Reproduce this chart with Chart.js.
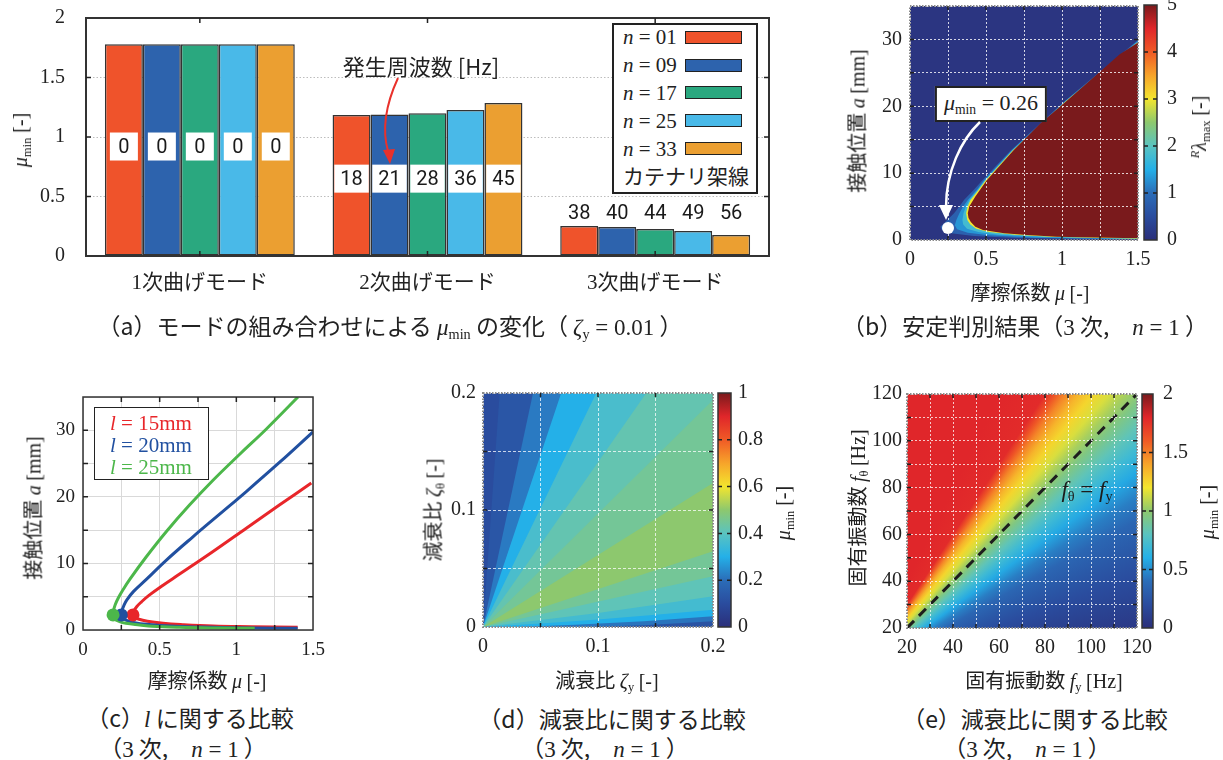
<!DOCTYPE html>
<html>
<head>
<meta charset="utf-8">
<script src="https://cdn.jsdelivr.net/npm/chart.js@4.4.1/dist/chart.umd.min.js"></script>
<style>
  body { margin: 0; width: 1223px; height: 760px; position: relative; overflow: hidden; background: #fff;
         font-family: 'Noto Sans CJK JP', sans-serif; color: #222; }
  canvas { position: absolute; }
  .t { position: absolute; white-space: nowrap; line-height: 1; }
  .ctr { transform: translate(-50%, -50%); }
  .rot { transform: translate(-50%, -50%) rotate(-90deg); }
  .m { font-family: 'Liberation Serif', serif; }
  .t sub { font-size: 0.62em; vertical-align: -0.32em; line-height: 0; }
  .t sup { font-size: 0.62em; vertical-align: 0.55em; line-height: 0; }
  .legend { position: absolute; background: #fff; border: 2px solid #222; box-sizing: border-box; }
  .lrow { position: absolute; left: 9px; height: 28px; line-height: 28px; white-space: nowrap; }
  .sw { position: absolute; width: 57px; height: 13px; border: 1.5px solid #222; box-sizing: border-box; }
  svg { position: absolute; left: 0; top: 0; pointer-events: none; }
</style>
</head>
<body>
<canvas id="chartA"></canvas>
<canvas id="chartB"></canvas>
<canvas id="barB"></canvas>
<canvas id="chartC"></canvas>
<canvas id="chartD"></canvas>
<canvas id="barD"></canvas>
<canvas id="chartE"></canvas>
<canvas id="barE"></canvas>

<div id="legendA" class="legend" style="left:612px;top:23px;width:146px;height:171px"></div>
<div id="legendC" class="legend" style="left:94px;top:407px;width:115px;height:73px;border-width:1.5px"></div>

<!-- axis titles -->
<div class="t rot m" style="left:20px;top:140px;font-size:20px"><i>μ</i><sub>min</sub> [-]</div>
<div class="t ctr" style="left:421px;top:65px;font-size:22px">発生周波数 [Hz]</div>

<div class="t rot" style="left:857px;top:121px;font-size:20px">接触位置 <i class="m">a</i> <span class="m">[mm]</span></div>
<div class="t ctr" style="left:1030px;top:292px;font-size:20px">摩擦係数 <i class="m">μ</i> <span class="m">[-]</span></div>
<div class="t rot m" style="left:1199px;top:127px;font-size:20px"><sup><i>R</i></sup><i>λ</i><sub>max</sub> [-]</div>
<div class="t ctr m" style="left:991px;top:104px;font-size:22px;background:#fff;border:2px solid #222;padding:4px 7px 6px 7px"><i>μ</i><sub>min</sub> = 0.26</div>

<div class="t rot" style="left:33px;top:508px;font-size:20px">接触位置 <i class="m">a</i> <span class="m">[mm]</span></div>
<div class="t ctr" style="left:207px;top:680px;font-size:20px">摩擦係数 <i class="m">μ</i> <span class="m">[-]</span></div>

<div class="t rot" style="left:433px;top:510px;font-size:20px">減衰比 <i class="m">ζ</i><sub class="m">θ</sub> <span class="m">[-]</span></div>
<div class="t ctr" style="left:607px;top:680px;font-size:20px">減衰比 <i class="m">ζ</i><sub class="m">y</sub> <span class="m">[-]</span></div>
<div class="t rot m" style="left:783px;top:513px;font-size:20px"><i>μ</i><sub>min</sub> [-]</div>

<div class="t rot" style="left:857px;top:508px;font-size:20px">固有振動数 <i class="m">f</i><sub class="m">θ</sub> <span class="m">[Hz]</span></div>
<div class="t ctr" style="left:1044px;top:680px;font-size:20px">固有振動数 <i class="m">f</i><sub class="m">y</sub> <span class="m">[Hz]</span></div>
<div class="t rot m" style="left:1207px;top:512px;font-size:20px"><i>μ</i><sub>min</sub> [-]</div>
<div class="t ctr m" style="left:1087px;top:489px;font-size:23px;color:#1c1c1c"><i>f</i><sub>θ</sub> = <i>f</i><sub>y</sub></div>

<!-- captions -->
<div class="t ctr" style="left:390px;top:326px;font-size:23px">（a）モードの組み合わせによる <span class="m"><i>μ</i><sub>min</sub></span> の変化（ <span class="m"><i>ζ</i><sub>y</sub> = 0.01</span> ）</div>
<div class="t ctr" style="left:1025px;top:326px;font-size:23px">（b）安定判別結果（<span class="m">3</span> 次,　<span class="m"><i>n</i> = 1</span> ）</div>
<div class="t ctr" style="left:190px;top:718px;font-size:23px">（c）<i class="m">l</i> に関する比較</div>
<div class="t ctr" style="left:183px;top:748px;font-size:23px">（<span class="m">3</span> 次,　<span class="m"><i>n</i> = 1</span> ）</div>
<div class="t ctr" style="left:612px;top:718px;font-size:23px">（d）減衰比に関する比較</div>
<div class="t ctr" style="left:605px;top:748px;font-size:23px">（<span class="m">3</span> 次,　<span class="m"><i>n</i> = 1</span> ）</div>
<div class="t ctr" style="left:1035px;top:718px;font-size:23px">（e）減衰比に関する比較</div>
<div class="t ctr" style="left:1027px;top:748px;font-size:23px">（<span class="m">3</span> 次,　<span class="m"><i>n</i> = 1</span> ）</div>

<svg width="1223" height="760">
  <path d="M398,78 C386,104 382,130 388,151" fill="none" stroke="#e9312b" stroke-width="2"/>
  <polygon points="383,150 395,149 390,164" fill="#e9312b"/>
  <path d="M980,122 C961,140 946,172 946,207" fill="none" stroke="#fff" stroke-width="2.5"/>
  <polygon points="939,205 953,205 946,220" fill="#fff"/>
</svg>

<script>
// ---- (a) mode comparison ----
const modes = ['1次曲げモード', '2次曲げモード', '3次曲げモード'];
const seriesN = ['01', '09', '17', '25', '33'];
const muN01 = [1.78, 1.185, 0.252];
const muN09 = [1.78, 1.19, 0.244];
const muN17 = [1.78, 1.20, 0.227];
const muN25 = [1.78, 1.227, 0.21];
const muN33 = [1.78, 1.286, 0.176];
const freqN01 = [0, 18, 38];
const freqN09 = [0, 21, 40];
const freqN17 = [0, 28, 44];
const freqN25 = [0, 36, 49];
const freqN33 = [0, 45, 56];

// ---- (b) stability map, boundaries (a ascending) ----
const bHazeA  = [0.05, 0.3, 0.6, 1.0, 1.5, 2.0, 3.0, 4.0, 5.0, 6.0, 7.5, 8.9, 13.4, 20.8, 29.9];
const bHazeMu = [1.5, 0.7, 0.42, 0.27, 0.21, 0.2, 0.245, 0.29, 0.325, 0.355, 0.42, 0.475, 0.662, 1.018, 1.5];
const bLblA   = [0.1, 0.35, 0.7, 1.1, 1.6, 2.2, 3.0, 4.0, 5.0, 6.0, 7.5, 8.9, 13.4, 20.8, 29.8];
const bLblMu  = [1.5, 0.82, 0.52, 0.38, 0.31, 0.295, 0.305, 0.325, 0.35, 0.38, 0.44, 0.486, 0.668, 1.022, 1.5];
const bCyanA  = [0.15, 0.45, 0.8, 1.2, 1.7, 2.3, 3.0, 4.0, 5.0, 6.0, 7.5, 8.9, 13.4, 20.8, 29.7];
const bCyanMu = [1.5, 0.88, 0.58, 0.45, 0.375, 0.35, 0.345, 0.352, 0.368, 0.39, 0.446, 0.491, 0.672, 1.025, 1.5];
const bYelA   = [0.2, 0.5, 0.8, 1.2, 1.7, 2.3, 3.0, 4.0, 5.0, 6.0, 7.5, 8.9, 13.4, 20.8, 29.6];
const bYelMu  = [1.5, 0.92, 0.69, 0.52, 0.435, 0.397, 0.377, 0.369, 0.379, 0.398, 0.452, 0.497, 0.676, 1.027, 1.5];
const bRedA   = [0.25, 0.5, 0.74, 1.0, 1.5, 2.0, 2.7, 3.3, 4.0, 5.0, 6.5, 8.9, 13.4, 17.4, 20.8, 24.3, 27.8, 29.5];
const bRedMu  = [1.49, 0.965, 0.77, 0.62, 0.48, 0.43, 0.4, 0.385, 0.38, 0.39, 0.43, 0.504, 0.68, 0.855, 1.03, 1.206, 1.38, 1.498];
const bLayerValue = [0.1, 0.8, 1.3, 1.8, 3.0, 5.0];
const bMinPoint = [0.25, 1.8];

// ---- (c) l comparison ----
const cLabels = ['15mm', '20mm', '25mm'];
const cRedMu   = [1.40, 1.1, 0.848, 0.65, 0.522, 0.42, 0.36, 0.33, 0.326, 0.333, 0.35, 0.38, 0.43, 0.52, 0.63, 0.848, 1.065, 1.283, 1.489];
const cRedA    = [0.4, 0.5, 0.6, 0.8, 1.0, 1.3, 1.65, 2.0, 2.26, 2.9, 3.5, 4.2, 5.2, 6.7, 8.4, 11.8, 15.3, 18.8, 22.08];
const cBlueMu  = [1.40, 1.1, 0.848, 0.6, 0.413, 0.33, 0.28, 0.255, 0.25, 0.254, 0.265, 0.285, 0.33, 0.413, 0.544, 0.717, 0.891, 1.065, 1.283, 1.5];
const cBlueA   = [0.25, 0.3, 0.4, 0.55, 0.85, 1.15, 1.5, 1.9, 2.26, 2.9, 3.6, 4.5, 5.8, 7.6, 10.5, 14.0, 17.4, 20.8, 25.2, 29.76];
const cGreenMu = [1.12, 0.9, 0.63, 0.45, 0.37, 0.28, 0.239, 0.205, 0.196, 0.2, 0.21, 0.23, 0.26, 0.305, 0.413, 0.544, 0.696, 0.848, 1.022, 1.196, 1.402];
const cGreenA  = [0.25, 0.3, 0.4, 0.55, 0.75, 1.0, 1.25, 1.7, 2.26, 3.0, 3.8, 4.8, 6.0, 7.6, 11.0, 14.8, 18.8, 22.5, 26.4, 30.2, 35.0];
const cNoseMu = [0.326, 0.25, 0.196];
const cNoseA  = [2.26, 2.26, 2.26];

// ---- (d) damping ratio map: band edges (painter order) and band values ----
const dEdges = [
  [[0, 0.2], [0.2, 0.2]],
  [[0, 0], [0.0145, 0.2], [0.2, 0.2]],
  [[0, 0], [0.0435, 0.2], [0.2, 0.2]],
  [[0, 0], [0.068, 0.2], [0.2, 0.2]],
  [[0, 0], [0.0985, 0.2], [0.2, 0.2]],
  [[0, 0], [0.142, 0.2], [0.2, 0.2]],
  [[0, 0], [0.2, 0.194]],
  [[0, 0], [0.2, 0.123]],
  [[0, 0], [0.2, 0.0647]],
  [[0, 0], [0.2, 0.0433]],
  [[0, 0], [0.05, 0.006], [0.1, 0.012], [0.15, 0.019], [0.2, 0.0262]],
  [[0, 0], [0.05, 0.003], [0.1, 0.0065], [0.15, 0.0105], [0.2, 0.0148]],
  [[0, 0], [0.03, 0], [0.08, 0.002], [0.14, 0.005], [0.2, 0.0091]],
  [[0, 0], [0.09, 0], [0.14, 0.0015], [0.2, 0.005]]
];
const dBandValue = [0.1, 0.13, 0.22, 0.3, 0.37, 0.42, 0.45, 0.5, 0.45, 0.41, 0.36, 0.3, 0.21, 0.12];

// ---- (e) natural frequency map: value along ratio f_theta / f_y ----
const eRatio = [2.0, 1.5, 1.42, 1.35, 1.27, 1.19, 1.11, 1.04, 0.97, 0.88, 0.8, 0.72, 0.63, 0.55, 0.45, 0.35, 0.25, 0.17];
const eValue = [1.8, 1.78, 1.62, 1.48, 1.35, 1.25, 1.15, 1.05, 0.95, 0.82, 0.7, 0.58, 0.45, 0.36, 0.28, 0.2, 0.13, 0.07];
const eDiagFy = [20, 120];
const eDiagF0 = [20, 120];

// ---- styles ----
const barColors = ['#ef532b', '#2d63ad', '#2aa87f', '#49b9e8', '#eb9f31'];
const lineColors = ['#e8262a', '#2150a0', '#4cb74a'];
const cmapStops = [[0, '#2b2f7a'], [0.1, '#2a4c9e'], [0.2, '#2b6db8'], [0.3, '#24b0e8'], [0.4, '#5ac3c0'],
  [0.5, '#8dc86e'], [0.6, '#f3e52e'], [0.7, '#f7a42a'], [0.8, '#f05a26'], [0.9, '#e0262a'], [1, '#7a1a1c']];
const SERIF = "'Liberation Serif', 'Noto Sans CJK JP', serif";
const NARROW = "'Liberation Sans Narrow', 'Arial Narrow', 'Roboto', sans-serif";
const tickFont = { family: SERIF, size: 20 };

function hexRgb(h) { return [1, 3, 5].map(i => parseInt(h.slice(i, i + 2), 16)); }
function cmap(t) {
  t = Math.max(0, Math.min(1, t));
  for (let k = 1; k < cmapStops.length; k++) {
    const [t1, c1] = cmapStops[k];
    if (t <= t1) {
      const [t0, c0] = cmapStops[k - 1];
      const f = (t - t0) / (t1 - t0);
      const a = hexRgb(c0), b = hexRgb(c1);
      return 'rgb(' + a.map((v, i) => Math.round(v + (b[i] - v) * f)).join(',') + ')';
    }
  }
  return cmapStops[cmapStops.length - 1][1];
}
const zip = (xs, ys) => xs.map((x, i) => ({ x, y: ys[i] }));
const fmt = v => String(+v.toFixed(3));
const every = (step) => v => Math.abs(v / step - Math.round(v / step)) < 1e-6 ? fmt(v) : '';
const fitW = w => s => { s.width = w; s.paddingTop = s.paddingBottom = s.paddingLeft = s.paddingRight = 0; };
const fitH = h => s => { s.height = h; s.paddingTop = s.paddingBottom = s.paddingLeft = s.paddingRight = 0; };
const flat = { maxRotation: 0, minRotation: 0, autoSkip: false };

function place(id, box) {
  const cv = document.getElementById(id);
  cv.width = box.w; cv.height = box.h;
  Object.assign(cv.style, { left: box.x + 'px', top: box.y + 'px', width: box.w + 'px', height: box.h + 'px' });
  return cv;
}

// box around the plot area with inward ticks
const framePlugin = {
  id: 'frame',
  afterDraw(chart, args, o) {
    const { ctx, chartArea: a } = chart;
    ctx.save();
    ctx.strokeStyle = o.color; ctx.lineWidth = o.width;
    ctx.setLineDash(o.dash || []);
    ctx.strokeRect(a.left, a.top, a.right - a.left, a.bottom - a.top);
    ctx.setLineDash([]);
    ctx.strokeStyle = o.tickColor || '#222'; ctx.lineWidth = 1.5;
    ctx.beginPath();
    (o.axes || []).forEach(id => {
      const s = chart.scales[id];
      s.ticks.forEach((t, i) => {
        const p = s.getPixelForTick(i);
        if (s.isHorizontal()) {
          if (p < a.left + 2 || p > a.right - 2) return;
          ctx.moveTo(p, a.bottom); ctx.lineTo(p, a.bottom - o.len);
          ctx.moveTo(p, a.top); ctx.lineTo(p, a.top + o.len);
        } else {
          if (p < a.top + 2 || p > a.bottom - 2) return;
          ctx.moveTo(a.left, p); ctx.lineTo(a.left + o.len, p);
          ctx.moveTo(a.right, p); ctx.lineTo(a.right - o.len, p);
        }
      });
    });
    ctx.stroke();
    ctx.restore();
  }
};

// frequency labels on the bars of (a)
const barLabelPlugin = {
  id: 'barLabels',
  afterDatasetsDraw(chart, args, o) {
    const { ctx } = chart;
    const ys = chart.scales.y;
    ctx.save();
    ctx.font = o.font; ctx.textAlign = 'center'; ctx.textBaseline = 'middle';
    chart.data.datasets.forEach((ds, i) => {
      chart.getDatasetMeta(i).data.forEach((bar, j) => {
        const txt = String(ds.freq[j]);
        const inBox = o.boxAt[j] != null;
        const y = ys.getPixelForValue(inBox ? o.boxAt[j] : o.aboveAt);
        if (inBox) {
          const w = Math.max(28, ctx.measureText(txt).width + 12);
          ctx.fillStyle = '#fff';
          ctx.fillRect(bar.x - w / 2, y - 14, w, 28);
        }
        ctx.fillStyle = '#1a1a1a';
        ctx.fillText(txt, bar.x, y + 1);
      });
    });
    ctx.restore();
  }
};

function colorbar(id, box, pad, max, step, labelPad, rightW) {
  return new Chart(place(id, box), {
    type: 'bar',
    data: {
      labels: [''],
      datasets: [{
        data: [[0, max]],
        barPercentage: 1, categoryPercentage: 1, borderWidth: 0,
        backgroundColor: c => {
          const ch = c.chart;
          if (!ch.chartArea) return '#888';
          const ys = ch.scales.y;
          const g = ch.ctx.createLinearGradient(0, ys.getPixelForValue(0), 0, ys.getPixelForValue(max));
          cmapStops.forEach(([t, col]) => g.addColorStop(t, col));
          return g;
        }
      }]
    },
    options: {
      responsive: false, animation: false, devicePixelRatio: 1,
      layout: { padding: pad },
      plugins: { legend: { display: false }, tooltip: { enabled: false },
        frame: { color: '#333', width: 1.5, axes: ['y'], len: 4 } },
      scales: {
        x: { display: false },
        y: { position: 'right', min: 0, max, ticks: { stepSize: step, font: tickFont, color: '#222', padding: labelPad, callback: v => fmt(v) },
             grid: { display: false, drawTicks: false }, border: { display: false }, afterFit: fitW(rightW) }
      }
    },
    plugins: [framePlugin]
  });
}

// ---------- (a) ----------
const muSeries = [muN01, muN09, muN17, muN25, muN33];
const freqSeries = [freqN01, freqN09, freqN17, freqN25, freqN33];
new Chart(place('chartA', { x: 0, y: 0, w: 800, h: 310 }), {
  type: 'bar',
  data: {
    labels: modes,
    datasets: muSeries.map((d, i) => ({
      label: 'n = ' + seriesN[i], data: d, freq: freqSeries[i],
      backgroundColor: barColors[i], borderColor: '#333', borderWidth: 1.5, borderSkipped: false,
      categoryPercentage: 0.834, barPercentage: 1
    }))
  },
  options: {
    responsive: false, animation: false, devicePixelRatio: 1,
    layout: { padding: { top: 18, right: 31, left: 0, bottom: 0 } },
    plugins: {
      legend: { display: false }, tooltip: { enabled: false },
      barLabels: { font: '20px ' + NARROW, boxAt: [0.92, 0.65, null], aboveAt: 0.36 },
      frame: { color: '#333', width: 2, axes: ['x', 'y'], len: 5 }
    },
    scales: {
      x: { ticks: { ...flat, font: { family: SERIF, size: 21 }, color: '#222', padding: 15 },
           grid: { display: false, drawTicks: false }, border: { display: false }, afterFit: fitH(54) },
      y: { min: 0, max: 2, ticks: { stepSize: 0.5, font: tickFont, color: '#222', padding: 21, callback: v => fmt(v) },
           grid: { color: '#bdbdbd', drawTicks: false }, border: { display: false, dash: [1.5, 2] }, afterFit: fitW(86) }
    }
  },
  plugins: [barLabelPlugin, framePlugin]
});

const legA = document.getElementById('legendA');
seriesN.forEach((n, i) => {
  const top = 14.3 + i * 27.8 - 2 - 14;
  legA.insertAdjacentHTML('beforeend',
    `<div class="lrow m" style="top:${top}px;font-size:21px"><i>n</i> = ${n}</div>` +
    `<div class="sw" style="left:71px;top:${top + 7.5}px;background:${barColors[i]}"></div>`);
});
legA.insertAdjacentHTML('beforeend', '<div class="lrow" style="top:136px;font-size:21px">カテナリ架線</div>');

// ---------- (b) ----------
const bCurves = [[[0, 0], [0, 35]].map(p => ({ x: p[0], y: p[1] })),
  zip(bHazeMu, bHazeA), zip(bLblMu, bLblA), zip(bCyanMu, bCyanA), zip(bYelMu, bYelA), zip(bRedMu, bRedA)];
const bDatasets = bCurves.map((pts, i) => ({
  data: pts, borderWidth: 0, pointRadius: 0, fill: { value: 1.5 },
  backgroundColor: cmap(bLayerValue[i] / 5), order: 20 - i
}));
bDatasets.push({ data: [{ x: bMinPoint[0], y: bMinPoint[1] }], showLine: false, pointRadius: 6,
  pointBackgroundColor: '#fff', pointBorderWidth: 0, order: 0 });
new Chart(place('chartB', { x: 860, y: 0, w: 300, h: 280 }), {
  type: 'line',
  data: { datasets: bDatasets },
  options: {
    responsive: false, animation: false, devicePixelRatio: 1, indexAxis: 'y',
    layout: { padding: { top: 5, right: 22, left: 0, bottom: 0 } },
    plugins: { legend: { display: false }, tooltip: { enabled: false },
      frame: { color: '#8a8a8a', width: 2, dash: [1.5, 1.5], axes: ['x', 'y'], len: 4 } },
    scales: {
      x: { type: 'linear', min: 0, max: 1.5, ticks: { ...flat, stepSize: 0.25, font: tickFont, color: '#222', padding: 8, callback: every(0.5) },
           grid: { color: 'rgba(255,255,255,0.8)', drawTicks: false, z: 1 }, border: { display: false, dash: [2, 2] }, afterFit: fitH(40) },
      y: { type: 'linear', min: 0, max: 35, ticks: { ...flat, stepSize: 5, font: tickFont, color: '#222', padding: 8, callback: every(10) },
           grid: { color: 'rgba(255,255,255,0.8)', drawTicks: false, z: 1 }, border: { display: false, dash: [2, 2] }, afterFit: fitW(50) }
    }
  },
  plugins: [framePlugin]
});
colorbar('barB', { x: 1140, y: 0, w: 83, h: 280 }, { left: 4, top: 5, bottom: 40, right: 0 }, 5, 1, 10, 66);

// ---------- (c) ----------
const cCurves = [zip(cRedMu, cRedA), zip(cBlueMu, cBlueA), zip(cGreenMu, cGreenA)];
const cDatasets = cCurves.map((pts, i) => ({
  data: pts, showLine: true, borderColor: lineColors[i], borderWidth: 3, pointRadius: 0, tension: 0.4, order: 6 - i
}));
cNoseMu.forEach((m, i) => cDatasets.push({
  data: [{ x: m, y: cNoseA[i] }], pointRadius: 6.5, pointBackgroundColor: lineColors[i], pointBorderWidth: 0, order: 3 - i
}));
new Chart(place('chartC', { x: 20, y: 380, w: 320, h: 290 }), {
  type: 'scatter',
  data: { datasets: cDatasets },
  options: {
    responsive: false, animation: false, devicePixelRatio: 1,
    layout: { padding: { top: 17, right: 27, left: 0, bottom: 0 } },
    plugins: { legend: { display: false }, tooltip: { enabled: false },
      frame: { color: '#333', width: 1.5, axes: ['x', 'y'], len: 5 } },
    scales: {
      x: { min: 0, max: 1.5, ticks: { ...flat, stepSize: 0.25, font: { family: SERIF, size: 19 }, color: '#222', padding: 9, callback: every(0.5) },
           grid: { color: '#d9d9d9', drawTicks: false }, border: { display: false }, afterFit: fitH(40) },
      y: { min: 0, max: 35, ticks: { ...flat, stepSize: 5, font: { family: SERIF, size: 19 }, color: '#222', padding: 8, callback: every(10) },
           grid: { color: '#d9d9d9', drawTicks: false }, border: { display: false }, afterFit: fitW(63) }
    }
  },
  plugins: [framePlugin]
});
const legC = document.getElementById('legendC');
cLabels.forEach((l, i) => {
  legC.insertAdjacentHTML('beforeend',
    `<div class="lrow m" style="top:${16 + i * 22 - 1.5 - 14}px;left:15px;font-size:21px;color:${lineColors[i]}"><i>l</i> = ${l}</div>`);
});

// ---------- (d) ----------
const dDatasets = dEdges.map((edge, i) => ({
  data: edge.map(p => ({ x: p[0], y: p[1] })), borderWidth: 0, pointRadius: 0, fill: { value: 0 },
  backgroundColor: cmap(dBandValue[i]), order: 30 - i
}));
new Chart(place('chartD', { x: 420, y: 380, w: 320, h: 290 }), {
  type: 'line',
  data: { datasets: dDatasets },
  options: {
    responsive: false, animation: false, devicePixelRatio: 1,
    layout: { padding: { top: 13, right: 27, left: 0, bottom: 0 } },
    plugins: { legend: { display: false }, tooltip: { enabled: false },
      frame: { color: '#8a8a8a', width: 2, dash: [1.5, 1.5], axes: ['x', 'y'], len: 4 } },
    scales: {
      x: { type: 'linear', min: 0, max: 0.2, ticks: { ...flat, stepSize: 0.05, font: tickFont, color: '#222', padding: 8, callback: every(0.1) },
           grid: { color: 'rgba(255,255,255,0.75)', drawTicks: false, z: 1 }, border: { display: false, dash: [3, 2] }, afterFit: fitH(43) },
      y: { type: 'linear', min: 0, max: 0.2, ticks: { ...flat, stepSize: 0.05, font: tickFont, color: '#222', padding: 7, callback: every(0.1) },
           grid: { color: 'rgba(255,255,255,0.75)', drawTicks: false, z: 1 }, border: { display: false, dash: [3, 2] }, afterFit: fitW(63) }
    }
  },
  plugins: [framePlugin]
});
colorbar('barD', { x: 714, y: 380, w: 100, h: 290 }, { left: 4, top: 13, bottom: 43, right: 0 }, 1, 0.2, 7, 83);

// ---------- (e) ----------
function ratioGradient(c) {
  const ch = c.chart;
  if (!ch.chartArea) return '#888';
  const sx = ch.scales.x, sy = ch.scales.y;
  const cx = sx.getPixelForValue(0), cy = sy.getPixelForValue(0);
  const kx = sx.getPixelForValue(1) - cx, ky = cy - sy.getPixelForValue(1);
  const g = ch.ctx.createConicGradient(-Math.PI / 2, cx, cy);
  eRatio.forEach((r, i) => {
    const f = (Math.atan2(-r * ky, kx) + Math.PI / 2) / (2 * Math.PI);
    g.addColorStop(Math.max(0, Math.min(1, f)), cmap(eValue[i] / 2));
  });
  return g;
}
new Chart(place('chartE', { x: 840, y: 380, w: 320, h: 290 }), {
  type: 'line',
  data: {
    datasets: [
      { data: [{ x: 20, y: 120 }, { x: 120, y: 120 }], borderWidth: 0, pointRadius: 0, fill: { value: 20 },
        backgroundColor: ratioGradient, order: 2 },
      { data: zip(eDiagFy, eDiagF0), borderColor: '#1e1e1e', borderWidth: 3, borderDash: [10, 7], pointRadius: 0, fill: false, order: 1 }
    ]
  },
  options: {
    responsive: false, animation: false, devicePixelRatio: 1,
    layout: { padding: { top: 14, right: 23, left: 0, bottom: 0 } },
    plugins: { legend: { display: false }, tooltip: { enabled: false },
      frame: { color: '#8a8a8a', width: 2, dash: [1.5, 1.5], axes: ['x', 'y'], len: 4 } },
    scales: {
      x: { type: 'linear', min: 20, max: 120, ticks: { ...flat, stepSize: 10, font: tickFont, color: '#222', padding: 8, callback: every(20) },
           grid: { color: 'rgba(255,255,255,0.75)', drawTicks: false, z: 1 }, border: { display: false, dash: [2, 2] }, afterFit: fitH(42) },
      y: { type: 'linear', min: 20, max: 120, ticks: { ...flat, stepSize: 10, font: tickFont, color: '#222', padding: 5, callback: every(20) },
           grid: { color: 'rgba(255,255,255,0.75)', drawTicks: false, z: 1 }, border: { display: false, dash: [2, 2] }, afterFit: fitW(67) }
    }
  },
  plugins: [framePlugin]
});
colorbar('barE', { x: 1138, y: 380, w: 85, h: 290 }, { left: 4, top: 14, bottom: 42, right: 0 }, 2, 0.5, 10, 70);
</script>
</body>
</html>
